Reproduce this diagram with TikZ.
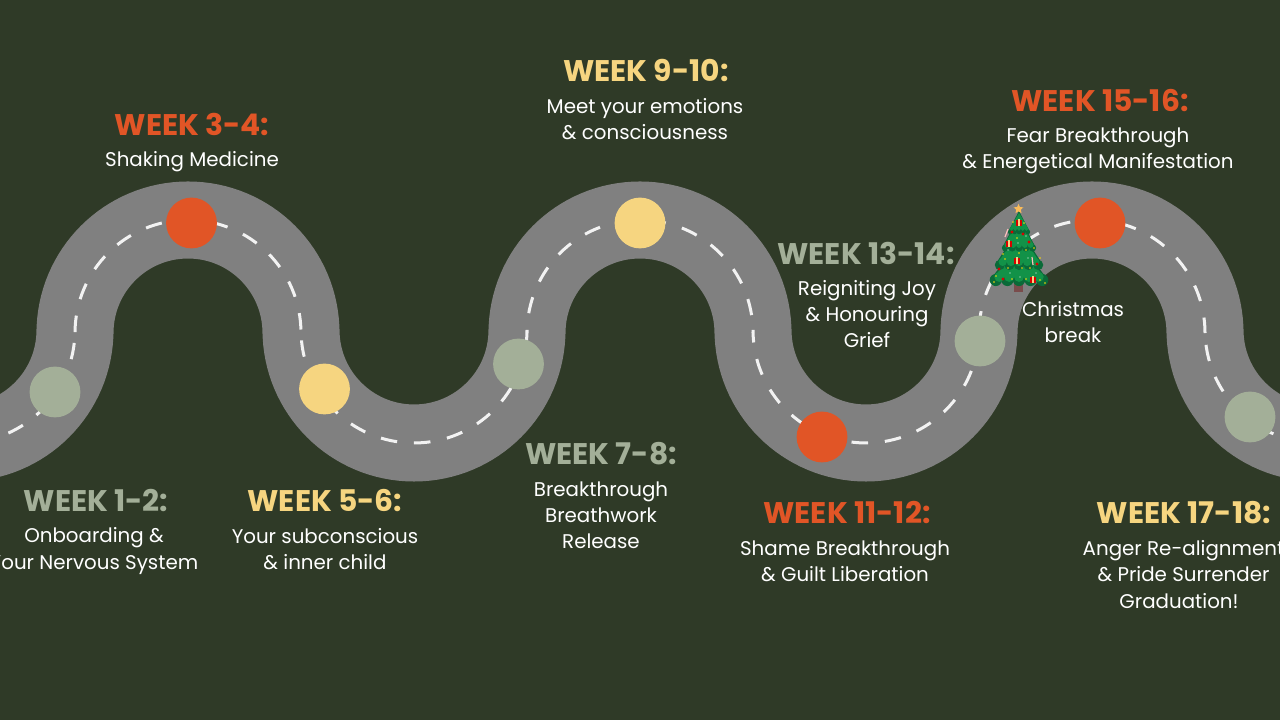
\documentclass[tikz,border=0pt]{standalone}
\usepackage{fontspec}
\setmainfont{Poppins}
\usetikzlibrary{shapes.geometric}
\definecolor{bgdark}{HTML}{2F3A27}
\definecolor{roadgray}{HTML}{808080}
\definecolor{sage}{HTML}{A3AF98}
\definecolor{sun}{HTML}{F6D580}
\definecolor{ember}{HTML}{E15526}
\definecolor{pine}{HTML}{0A6A38}
\definecolor{leaf}{HTML}{129248}
\tikzset{
  road/.style={draw=roadgray, line width=1.925cm},
  lane/.style={draw=white!95!black, line width=0.075cm, dash pattern=on 0.4125cm off 0.4225cm, dash phase=0.475cm},
  stop/.style={circle, minimum size=1.27cm, inner sep=0pt},
  head/.style={font=\fontsize{21.2}{25}\selectfont\bfseries},
  info/.style={font=\fontsize{14.1}{18.6}\selectfont, text=white, align=center},
}
\begin{document}
\begin{tikzpicture}[x=0.025cm, y=0.025cm]
  \path[use as bounding box, clip] (0,0) rectangle (1280,720);
  \fill[bgdark] (0,0) rectangle (1280,720);

  % road and centre line
  \foreach \sty in {road, lane} {
    \draw[\sty] (-38,277) arc[start angle=270, end angle=360, radius=113] -- (75,387)
      arc[start angle=180, end angle=0, radius=113] -- (301,390)
      arc[start angle=180, end angle=360, radius=113] -- (527,387)
      arc[start angle=180, end angle=0, radius=113] -- (753,390)
      arc[start angle=180, end angle=360, radius=113] -- (979,387)
      arc[start angle=180, end angle=0, radius=113] -- (1205,390)
      arc[start angle=180, end angle=270, radius=113];
  }

  % stops
  \node[stop, fill=sage] (s1) at (55,328) {};
  \node[stop, fill=ember] (s2) at (191.5,497) {};
  \node[stop, fill=sun] (s3) at (324.5,331) {};
  \node[stop, fill=sage] (s4) at (518.5,356) {};
  \node[stop, fill=sun] (s5) at (640,497) {};
  \node[stop, fill=ember] (s6) at (822,283) {};
  \node[stop, fill=sage] (s7) at (980,379) {};
  \node[stop, fill=ember] (s8) at (1100,497) {};
  \node[stop, fill=sage] (s9) at (1250,303) {};

  % labels
  \node[head, text=sage] (w1) at (96,219) {WEEK 1-2:};
  \node[info] (t1) at (94,169) {Onboarding \&\\Your Nervous System};
  \node[head, text=ember] (w2) at (192,596) {WEEK 3-4:};
  \node[info] (t2) at (192,558) {Shaking Medicine};
  \node[head, text=sun] (w3) at (325,219) {WEEK 5-6:};
  \node[info] (t3) at (325,170.5) {Your subconscious\\\& inner child};
  \node[head, text=sage] (w4) at (601,266) {WEEK 7-8:};
  \node[info] (t4) at (601,205) {Breakthrough\\Breathwork\\Release};
  \node[head, text=sun] (w5) at (646,649) {WEEK 9-10:};
  \node[info] (t5) at (645,601) {Meet your emotions\\\& consciousness};
  \node[head, text=ember] (w6) at (847,207) {WEEK 11-12:};
  \node[info] (t6) at (845,159) {Shame Breakthrough\\\& Guilt Liberation};
  \node[head, text=sage] (w7) at (866,467) {WEEK 13-14:};
  \node[info] (t7) at (867,406) {Reigniting Joy\\\& Honouring\\Grief};
  \node[head, text=ember] (w8) at (1100,619) {WEEK 15-16:};
  \node[info] (t8) at (1098,569) {Fear Breakthrough\\\& Energetical Manifestation};
  \node[head, text=sun] (w9) at (1184,207) {WEEK 17-18:};
  \node[info] (t9) at (1183.5,158.5) {Anger Re-alignment\\\& Pride Surrender};
  \node[info] (t10) at (1179,119) {Graduation!};
  \node[info] (xmas) at (1073,398) {Christmas\\break};

  % tree
  \fill[black!55!red!40!gray] (1014,442) rectangle (1023,428);
  \foreach \yt/\yb/\hw in {478/440/29, 492/455/24, 504/472/17, 509/488/11} {
    \fill[pine] (1019,\yt) -- (1019-\hw,\yb) -- (1019+\hw,\yb) -- cycle;
    \foreach \k in {-2,-1,0,1,2}
      \fill[pine] (1019+\k*\hw*0.4,\yb) circle ({\hw*0.21});
    \fill[leaf] (1019,\yt-2) -- (1019-\hw*0.85,\yb+3) -- (1019+\hw*0.85,\yb+3) -- cycle;
    \foreach \k in {-2,-1,0,1,2}
      \fill[leaf] (1019+\k*\hw*0.34,\yb+3) circle ({\hw*0.17});
  }
  \node[star, star points=5, star point ratio=2.2, fill=sun!70!orange, inner sep=0pt, minimum size=0.26cm] (topstar) at (1018.5,511) {};
  % gifts
  \foreach \ox/\oy in {1019/497, 1009/476, 1017/459, 1033/440} {
    \fill[red!85!black] (\ox-3,\oy-3) rectangle (\ox+3,\oy+3);
    \fill[sun] (\ox-0.6,\oy-3) rectangle (\ox+0.6,\oy+3.5);
  }
  % baubles and lights
  \foreach \ox/\oy in {1023/486, 999/451, 1029/478, 1012/488, 1037/456, 1003/441}
    \fill[red!85!black] (\ox,\oy) circle (1.7);
  \draw[pink, line width=0.03cm] (1005,483) -- (1008,491);
  \draw[pink, line width=0.03cm] (1033,455) -- (1032,463);
  \foreach \ox/\oy in {1013/498, 1026/470, 1003/466, 1022/452, 1034/472, 996/444, 1026/441, 1008/452, 1040/440, 1019/467, 1012/441, 1024/497, 1005/461, 1040/462, 1030/452, 1017/482, 994/438, 1045/437}
    \fill[yellow!80!orange] (\ox,\oy) circle (0.8);
  \foreach \ox/\oy in {1018/477, 1008/470, 1028/462, 1010/447, 1036/447, 1020/443, 1026/484}
    \fill[white] (\ox,\oy) circle (0.6);
\end{tikzpicture}
\end{document}
